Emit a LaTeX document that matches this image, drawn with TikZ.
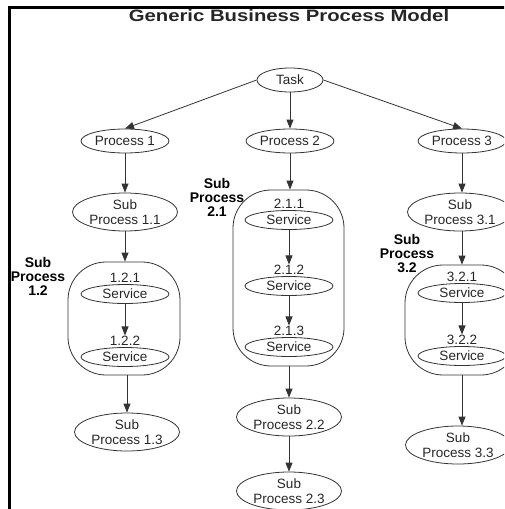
\documentclass[tikz,border=0pt]{standalone}
\usepackage{fontspec}
\setmainfont{Liberation Sans}
\usetikzlibrary{arrows.meta, shapes.geometric}

\begin{document}
\begin{tikzpicture}[x=1pt, y=-1pt,
  every node/.style={font=\fontsize{13.5}{15}\selectfont, text=black!85},
  proc/.style={ellipse, draw=black!80, line width=0.8pt, minimum width=88pt, minimum height=24pt, inner sep=0pt},
  subproc/.style={proc, minimum width=105pt, minimum height=38pt, align=center},
  service/.style={proc, minimum width=88pt, minimum height=19pt},
  svcnum/.style={anchor=base, inner sep=0pt, yshift=2pt},
  group/.style={draw=black!80, line width=0.8pt, rounded corners=38pt, inner sep=0pt},
  grouplabel/.style={font=\bfseries\fontsize{14}{14}\selectfont, align=center, text=black},
  link/.style={-{Triangle[length=9pt,width=7pt]}, line width=0.8pt, draw=black!80}]
\useasboundingbox (0,0) rectangle (504,509);
\clip (0,0) rectangle (504,509);

% frame and title
\draw[line width=3pt] (9.5,515) -- (9.5,7) -- (515,7);
\node[anchor=base, font=\bfseries\fontsize{16.5}{18}\selectfont, xscale=1.23] (title) at (289,21) {Generic Business Process Model};

% task and processes
\node[proc, minimum width=66pt] (task) at (290,80) {Task};
\node[proc] (p1) at (125,141) {Process 1};
\node[proc] (p2) at (290,141) {Process 2};
\node[proc] (p3) at (462,141) {Process 3};

\draw[link] (task.west) -- (p1.north);
\draw[link] (task.south) -- (p2.north);
\draw[link] (task.east) -- (p3.north);

% column 1
\node[subproc] (s11) at (125,212) {Sub\\Process 1.1};
\node[group, minimum width=112pt, minimum height=113pt] (g12) at (124,318.5) {};
\node[grouplabel] (l12) at (38,276) {Sub\\Process\\1.2};
\node[service] (v121) at (125,294) {Service};
\node[svcnum] (n121) at (v121.north) {1.2.1};
\node[service] (v122) at (125,357) {Service};
\node[svcnum] (n122) at (v122.north) {1.2.2};
\node[subproc] (s13) at (127,432) {Sub\\Process 1.3};

\draw[link] (p1) -- (s11);
\draw[link] (s11) -- (g12.north -| s11);
\draw[link] (v121) -- (n122);
\draw[link] (g12.south -| s13) -- (s13);

% column 2
\node[group, minimum width=111pt, minimum height=176pt] (g21) at (288.5,278) {};
\node[grouplabel] (l21) at (217,197) {Sub\\Process\\2.1};
\node[service] (v211) at (289,220) {Service};
\node[svcnum] (n211) at (v211.north) {2.1.1};
\node[service] (v212) at (289,286) {Service};
\node[svcnum] (n212) at (v212.north) {2.1.2};
\node[service] (v213) at (289,347) {Service};
\node[svcnum] (n213) at (v213.north) {2.1.3};
\node[subproc] (s22) at (289,417) {Sub\\Process 2.2};
\node[subproc] (s23) at (289,491) {Sub\\Process 2.3};

\draw[link] (p2) -- (g21.north -| p2);
\draw[link] (v211) -- (n212);
\draw[link] (v212) -- (n213);
\draw[link] (g21.south -| s22) -- (s22);
\draw[link] (s22) -- (s23);

% column 3
\node[subproc] (s31) at (460,212) {Sub\\Process 3.1};
\node[group, minimum width=114pt, minimum height=110pt] (g32) at (462,320) {};
\node[grouplabel] (l32) at (407,254) {Sub\\Process\\3.2};
\node[service] (v321) at (462,293) {Service};
\node[svcnum] (n321) at (v321.north) {3.2.1};
\node[service] (v322) at (462,356) {Service};
\node[svcnum] (n322) at (v322.north) {3.2.2};
\node[subproc] (s33) at (458,445) {Sub\\Process 3.3};

\draw[link] (p3) -- (s31.north -| p3);
\draw[link] (s31.south -| p3) -- (g32.north -| p3);
\draw[link] (v321) -- (n322);
\draw[link] (g32.south -| p3) -- (s33.north -| p3);
\end{tikzpicture}
\end{document}
